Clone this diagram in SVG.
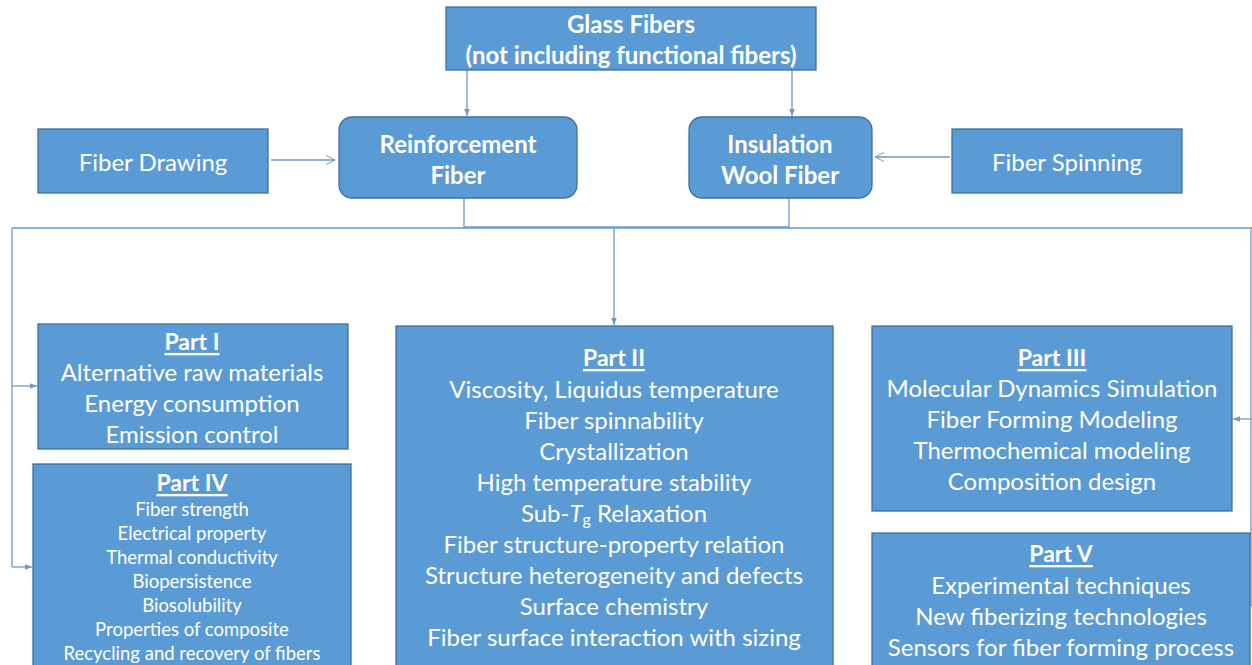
<svg xmlns="http://www.w3.org/2000/svg" width="1252" height="665" viewBox="0 0 1252 665">
<style>
.box{fill:#5B9BD5;stroke:#41719C;stroke-width:1.3}
.t{font-family:Lato,"Liberation Sans",sans-serif;fill:#fff;text-anchor:middle;dominant-baseline:central}
.b{font-weight:bold}
.u{text-decoration:underline}
.m{font-size:24px}
.h{font-size:23px}
.s{font-size:18.5px}
.c{fill:none;stroke:#6A9AC8;stroke-width:1.3}
</style>
<defs>
<marker id="ah" viewBox="0 0 10 10" refX="10" refY="5" markerWidth="7" markerHeight="7" orient="auto" markerUnits="userSpaceOnUse"><path d="M0,1 L10,5 L0,9 z" fill="#6A9AC8"/></marker>
<marker id="oa" viewBox="0 0 10 10" refX="10" refY="5" markerWidth="10" markerHeight="10" orient="auto" markerUnits="userSpaceOnUse"><path d="M1,0.5 L10,5 L1,9.5" fill="none" stroke="#6A9AC8" stroke-width="1"/></marker>
</defs>
<g id="connectors">
<path class="c" d="M467,70 V116" marker-end="url(#ah)"/>
<path class="c" d="M792,70 V116" marker-end="url(#ah)"/>
<path class="c" d="M271,160 H335" marker-end="url(#oa)"/>
<path class="c" d="M950,157 H875" marker-end="url(#oa)"/>
<path class="c" d="M464,198 V227 H789 V198"/>
<path class="c" d="M12,228 H1252"/>
<path class="c" d="M12,228 V567"/>
<path class="c" d="M12,386 H37" marker-end="url(#ah)"/>
<path class="c" d="M12,567 H32" marker-end="url(#ah)"/>
<path class="c" d="M614,228 V325" marker-end="url(#ah)"/>
<path class="c" d="M1251,228 V607"/>
<path class="c" d="M1251,419 H1233" marker-end="url(#ah)"/>
</g>
<g id="glass">
<rect class="box" x="446" y="7" width="370" height="63"/>
<text class="t b m" x="631" y="23">Glass Fibers</text>
<text class="t b m" x="631" y="54">(not including functional fibers)</text>
</g>
<g id="reinforcement">
<rect class="box" x="339" y="117" width="238" height="81" rx="13"/>
<text class="t b m" x="458" y="143">Reinforcement</text>
<text class="t b m" x="458" y="174">Fiber</text>
</g>
<g id="insulation">
<rect class="box" x="689" y="117" width="183" height="81" rx="13"/>
<text class="t b m" x="780" y="143">Insulation</text>
<text class="t b m" x="780" y="174">Wool Fiber</text>
</g>
<g id="drawing">
<rect class="box" x="38" y="129" width="230" height="64"/>
<text class="t m" x="153" y="161">Fiber Drawing</text>
</g>
<g id="spinning">
<rect class="box" x="952" y="129" width="230" height="64"/>
<text class="t m" x="1067" y="161">Fiber Spinning</text>
</g>
<g id="part1">
<rect class="box" x="38" y="324" width="310" height="125"/>
<text class="t b u h" x="192" y="341">Part I</text>
<text class="t m" x="192" y="371">Alternative raw materials</text>
<text class="t m" x="192" y="402">Energy consumption</text>
<text class="t m" x="192" y="433">Emission control</text>
</g>
<g id="part4">
<rect class="box" x="33" y="464" width="318" height="210"/>
<text class="t b u h" x="192" y="482">Part IV</text>
<text class="t s" x="192" y="509">Fiber strength</text>
<text class="t s" x="192" y="533">Electrical property</text>
<text class="t s" x="192" y="557">Thermal conductivity</text>
<text class="t s" x="192" y="581">Biopersistence</text>
<text class="t s" x="192" y="605">Biosolubility</text>
<text class="t s" x="192" y="629">Properties of composite</text>
<text class="t s" x="192" y="653">Recycling and recovery of fibers</text>
</g>
<g id="part2">
<rect class="box" x="396" y="326" width="437" height="350"/>
<text class="t b u h" x="614" y="357">Part II</text>
<text class="t m" x="614" y="388">Viscosity, Liquidus temperature</text>
<text class="t m" x="614" y="419">Fiber spinnability</text>
<text class="t m" x="614" y="450">Crystallization</text>
<text class="t m" x="614" y="481">High temperature stability</text>
<text class="t m" x="614" y="512">Sub-<tspan font-style="italic">T</tspan><tspan font-size="16" dy="6">g</tspan><tspan dy="-6"> Relaxation</tspan></text>
<text class="t m" x="614" y="543">Fiber structure-property relation</text>
<text class="t m" x="614" y="574">Structure heterogeneity and defects</text>
<text class="t m" x="614" y="605">Surface chemistry</text>
<text class="t m" x="614" y="636">Fiber surface interaction with sizing</text>
</g>
<g id="part3">
<rect class="box" x="872" y="326" width="360" height="185"/>
<text class="t b u h" x="1052" y="357">Part III</text>
<text class="t m" x="1052" y="387">Molecular Dynamics Simulation</text>
<text class="t m" x="1052" y="418">Fiber Forming Modeling</text>
<text class="t m" x="1052" y="449">Thermochemical modeling</text>
<text class="t m" x="1052" y="480">Composition design</text>
</g>
<g id="part5">
<rect class="box" x="872" y="533" width="378" height="140"/>
<text class="t b u h" x="1061" y="553">Part V</text>
<text class="t m" x="1061" y="584">Experimental techniques</text>
<text class="t m" x="1061" y="615">New fiberizing technologies</text>
<text class="t m" x="1061" y="646">Sensors for fiber forming process</text>
</g>
</svg>
